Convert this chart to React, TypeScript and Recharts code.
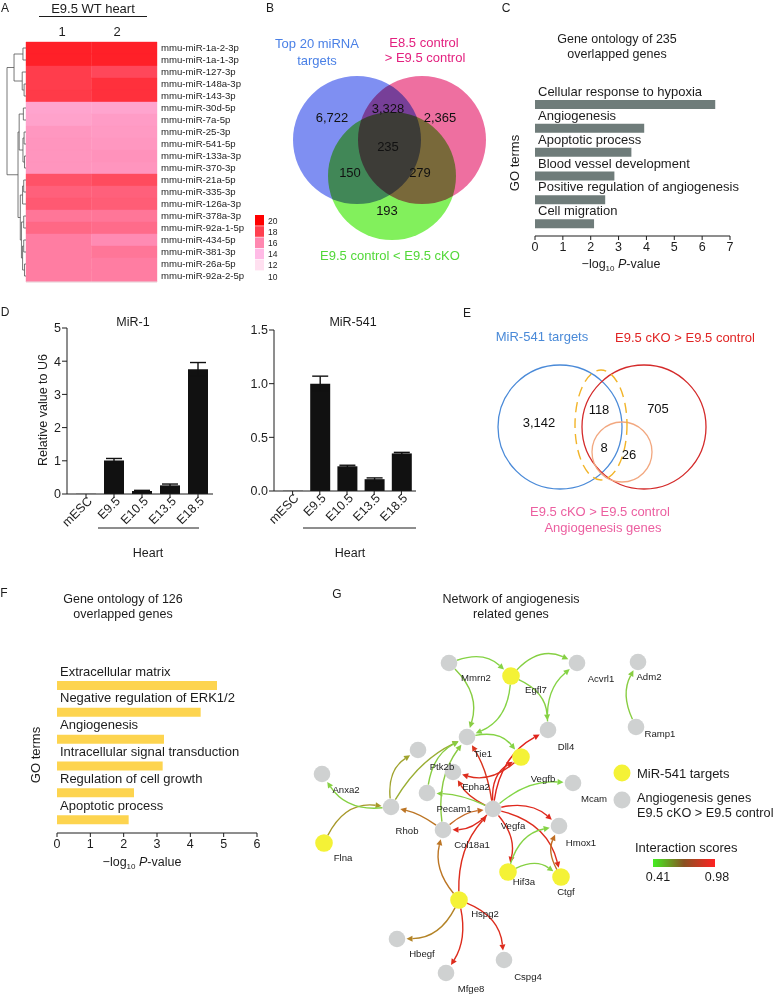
import React from 'react'
import {
  BarChart, Bar, XAxis, YAxis, LabelList, ErrorBar,
  ScatterChart, Scatter, ReferenceArea, ReferenceLine,
} from 'recharts'

const FONT = '"Liberation Sans", Arial, Helvetica, sans-serif'
const INK = '#1c1c1c'

// ---------- A: miRNA heatmap ----------
const mirNames = [
  'mmu-miR-1a-2-3p', 'mmu-miR-1a-1-3p', 'mmu-miR-127-3p', 'mmu-miR-148a-3p', 'mmu-miR-143-3p',
  'mmu-miR-30d-5p', 'mmu-miR-7a-5p', 'mmu-miR-25-3p', 'mmu-miR-541-5p', 'mmu-miR-133a-3p',
  'mmu-miR-370-3p', 'mmu-miR-21a-5p', 'mmu-miR-335-3p', 'mmu-miR-126a-3p', 'mmu-miR-378a-3p',
  'mmu-miR-92a-1-5p', 'mmu-miR-434-5p', 'mmu-miR-381-3p', 'mmu-miR-26a-5p', 'mmu-miR-92a-2-5p',
]
const heartRep1 = [19.0, 19.0, 18.1, 18.1, 18.2, 14.9, 15.0, 15.4, 15.5, 15.5, 15.5, 17.5, 17.1, 17.3, 16.5, 16.9, 16.3, 16.3, 16.3, 16.3]
const heartRep2 = [19.0, 19.0, 17.8, 18.5, 18.5, 14.9, 15.2, 15.3, 15.4, 15.6, 15.5, 17.7, 17.1, 17.2, 16.5, 16.8, 15.9, 16.5, 16.3, 16.3]
const heatLegend = [20, 18, 16, 14, 12, 10]
// dendrogram merges [left, right, height]; ids >= 20 refer to earlier merges
const mirTree: [number, number, number][] = [
  [0, 1, 0.16], [3, 4, 0.1], [2, 21, 0.2], [20, 22, 0.63],
  [5, 6, 0.14], [7, 8, 0.1], [9, 10, 0.08], [25, 26, 0.16], [24, 27, 0.36],
  [11, 12, 0.12], [29, 13, 0.18], [14, 15, 0.12], [16, 17, 0.12], [18, 19, 0.08],
  [32, 33, 0.18], [31, 34, 0.24], [30, 35, 0.3], [28, 36, 0.42], [23, 37, 1.0],
]

// ---------- B: three-way venn ----------
const vennBCounts = [6722, 3328, 2365, 235, 150, 279, 193]
const vennBFill = ['#7f8ff2', '#ee6fa0', '#82f05c']

// ---------- C: GO of 235 genes ----------
const goTerms235 = ['Cellular response to hypoxia', 'Angiogenesis', 'Apoptotic process', 'Blood vessel development', 'Positive regulation of angiogenesis', 'Cell migration']
const goP235 = [6.47, 3.92, 3.46, 2.85, 2.52, 2.12]

// ---------- D: qPCR ----------
const stages = ['mESC', 'E9.5', 'E10.5', 'E13.5', 'E18.5']
const mir1Mean = [0.005, 1.01, 0.09, 0.26, 3.76]
const mir1Err = [0, 0.06, 0.02, 0.04, 0.2]
const mir541Mean = [0.002, 1.0, 0.23, 0.11, 0.35]
const mir541Err = [0, 0.07, 0.01, 0.012, 0.01]

// ---------- E: miR-541 venn ----------
const vennECounts = [3142, 118, 705, 8, 26]

// ---------- F: GO of 126 genes ----------
const goTerms126 = ['Extracellular matrix', 'Negative regulation of ERK1/2', 'Angiogenesis', 'Intracellular signal transduction', 'Regulation of cell growth', 'Apoptotic process']
const goP126 = [4.8, 4.31, 3.21, 3.17, 2.31, 2.15]

// ---------- G: network ----------
const geneNodes = ['Mmrn2', 'Egfl7', 'Acvrl1', 'Adm2', 'Ramp1', 'Dll4', 'Tie1', 'Vegfb', 'Ptk2b', 'Epha2', 'Pecam1', 'Anxa2',
  'Rhob', 'Flna', 'Col18a1', 'Vegfa', 'Mcam', 'Hmox1', 'Hif3a', 'Ctgf', 'Hspg2', 'Hbegf', 'Mfge8', 'Cspg4']
const mir541Targets = ['Egfl7', 'Vegfb', 'Flna', 'Hif3a', 'Ctgf', 'Hspg2']
const interactions: [string, string, number][] = [
  ['Mmrn2', 'Egfl7', 0.45], ['Egfl7', 'Acvrl1', 0.46], ['Mmrn2', 'Tie1', 0.47], ['Egfl7', 'Tie1', 0.45],
  ['Egfl7', 'Dll4', 0.46], ['Dll4', 'Acvrl1', 0.45], ['Ramp1', 'Adm2', 0.47], ['Tie1', 'Vegfb', 0.45],
  ['Vegfa', 'Dll4', 0.97], ['Vegfa', 'Vegfb', 0.96], ['Vegfb', 'Epha2', 0.95], ['Vegfa', 'Tie1', 0.93],
  ['Vegfa', 'Epha2', 0.94], ['Vegfa', 'Mcam', 0.44], ['Vegfa', 'Hmox1', 0.96], ['Vegfa', 'Hif3a', 0.95],
  ['Vegfa', 'Ctgf', 0.95], ['Hif3a', 'Hmox1', 0.45], ['Hif3a', 'Ctgf', 0.46], ['Ctgf', 'Hmox1', 0.78],
  ['Vegfa', 'Pecam1', 0.46], ['Rhob', 'Ptk2b', 0.62], ['Rhob', 'Tie1', 0.58], ['Pecam1', 'Tie1', 0.47],
  ['Col18a1', 'Tie1', 0.48], ['Vegfa', 'Col18a1', 0.96], ['Col18a1', 'Rhob', 0.76], ['Col18a1', 'Vegfa', 0.8],
  ['Hspg2', 'Col18a1', 0.76], ['Hspg2', 'Vegfa', 0.95], ['Hspg2', 'Hbegf', 0.72], ['Hspg2', 'Mfge8', 0.95],
  ['Hspg2', 'Cspg4', 0.95], ['Flna', 'Rhob', 0.66], ['Rhob', 'Anxa2', 0.46],
]

// layout (px inside each panel), kept apart from the values
const vennBCircleAt = [[97, 140], [162, 140], [132, 176]]
const vennBCountAt = [[72, 117], [128, 108], [180, 117], [128, 146], [90, 172], [160, 172], [127, 210]]
const vennECircleAt = [[170, 137, 62, '#4a8ad8'], [254, 137, 62, '#d42a2a'], [232, 162, 30, '#f2a880']] as const
const vennECountAt = [[149, 132], [209, 119], [268, 118], [214, 157], [239, 164]]
const nodeAt: Record<string, [number, number]> = {
  Mmrn2: [149, 73], Egfl7: [211, 86], Acvrl1: [277, 73], Adm2: [338, 72], Ramp1: [336, 137],
  Dll4: [248, 140], Tie1: [167, 147], Vegfb: [221, 167], Ptk2b: [118, 160], Epha2: [153, 182],
  Pecam1: [127, 203], Anxa2: [22, 184], Rhob: [91, 217], Flna: [24, 253], Col18a1: [143, 240],
  Vegfa: [193, 219], Mcam: [273, 193], Hmox1: [259, 236], Hif3a: [208, 282], Ctgf: [261, 287],
  Hspg2: [159, 310], Hbegf: [97, 349], Mfge8: [146, 383], Cspg4: [204, 370],
}
const labelAt: Record<string, [number, number]> = {
  Mmrn2: [176, 87], Egfl7: [236, 99], Acvrl1: [301, 88], Adm2: [349, 86], Ramp1: [360, 143],
  Dll4: [266, 156], Tie1: [183, 163], Vegfb: [243, 188], Ptk2b: [142, 176], Epha2: [176, 196],
  Pecam1: [154, 218], Anxa2: [46, 199], Rhob: [107, 240], Flna: [43, 267], Col18a1: [172, 254],
  Vegfa: [213, 235], Mcam: [294, 208], Hmox1: [281, 252], Hif3a: [224, 291], Ctgf: [266, 301],
  Hspg2: [185, 323], Hbegf: [122, 363], Mfge8: [171, 398], Cspg4: [228, 386],
}
const edgeBend = [0.3, 0.35, 0.3, 0.3, 0.3, 0.25, 0.25, 0.3, 0.25, 0.3, 0.27, -0.1, 0.15, 0.2, 0.25, 0.25,
  0.3, 0.3, 0.3, 0.25, -0.1, 0.3, 0.15, 0.25, 0.2, 0.2, -0.1, 0.15, 0.25, 0.2, 0.3, 0.2, 0.3, 0.35, 0.3]

const heatStops: [number, number[]][] = [
  [10, [255, 255, 255]], [12, [255, 224, 240]], [14, [255, 187, 230]],
  [16, [255, 136, 176]], [18, [255, 64, 80]], [20, [255, 0, 0]],
]
const scoreStops: [number, number[]][] = [
  [0, [126, 222, 74]], [0.45, [168, 150, 40]], [0.7, [198, 100, 34]], [1, [226, 32, 28]],
]

function lerpStops(stops: [number, number[]][], v: number) {
  if (v <= stops[0][0]) return `rgb(${stops[0][1].join(',')})`
  for (let i = 1; i < stops.length; i++) {
    const [v1, c1] = stops[i]
    const [v0, c0] = stops[i - 1]
    if (v <= v1) {
      const t = (v - v0) / (v1 - v0)
      return `rgb(${c0.map((c, k) => Math.round(c + (c1[k] - c) * t)).join(',')})`
    }
  }
  return `rgb(${stops[stops.length - 1][1].join(',')})`
}
const heatColor = (v: number) => lerpStops(heatStops, v)
const scoreColor = (s: number) => lerpStops(scoreStops, (s - 0.41) / 0.57)

const txt = (size = 12.5, extra: any = {}) => ({ fontSize: size, fontFamily: FONT, fill: INK, ...extra })

// chart whose axes map one unit to one pixel
function PixelCanvas({ w, h, children }: { w: number; h: number; children: React.ReactNode }) {
  return (
    <ScatterChart width={w} height={h} margin={{ top: 0, right: 0, bottom: 0, left: 0 }}>
      <XAxis type="number" dataKey="x" domain={[0, w]} allowDataOverflow hide />
      <YAxis type="number" dataKey="y" domain={[0, h]} allowDataOverflow reversed hide />
      {children}
    </ScatterChart>
  )
}

function HeatmapA() {
  const K = 0.29
  const pos = mirNames.map((_, i) => i + 0.5)
  const hgt = mirNames.map(() => 0)
  const segs: number[][] = []
  mirTree.forEach(([a, b, h]) => {
    segs.push([-hgt[a] * K, pos[a], -h * K, pos[a]])
    segs.push([-hgt[b] * K, pos[b], -h * K, pos[b]])
    segs.push([-h * K, pos[a], -h * K, pos[b]])
    pos.push((pos[a] + pos[b]) / 2)
    hgt.push(h)
  })
  const cells = mirNames.flatMap((_, r) => [
    { x: 0.5, y: r + 0.5, c: 0, r, v: heartRep1[r] },
    { x: 1.5, y: r + 0.5, c: 1, r, v: heartRep2[r] },
  ])
  return (
    <ScatterChart width={262} height={300} margin={{ top: 42, right: 8, bottom: 18, left: 4 }}>
      <XAxis type="number" dataKey="x" domain={[-0.336, 2]} allowDataOverflow hide />
      <YAxis type="number" dataKey="y" domain={[0, 20]} allowDataOverflow reversed orientation="right" width={97}
        ticks={mirNames.map((_, i) => i + 0.5)} interval={0} tickFormatter={(v: number) => mirNames[Math.floor(v)]}
        axisLine={false} tickLine={false} tickSize={2} tickMargin={2} tick={txt(9.6)} />
      {cells.map((d) => (
        <ReferenceArea key={`${d.r}-${d.c}`} x1={d.c} x2={d.c + 1} y1={d.r} y2={d.r + 1}
          fill={heatColor(d.v)} fillOpacity={1} stroke={heatColor(d.v)} strokeWidth={0.4} />
      ))}
      {segs.map((s, i) => (
        <ReferenceLine key={i} segment={[{ x: s[0], y: s[1] }, { x: s[2], y: s[3] }]} stroke="#555" strokeWidth={0.8} />
      ))}
      <ReferenceLine segment={[{ x: 0, y: 20 }, { x: 2, y: 20 }]} stroke="#e4e4e4" strokeWidth={1} />
      <Scatter data={cells} isAnimationActive={false} shape={() => <g />} />
    </ScatterChart>
  )
}

function VennB() {
  const circles = vennBFill.map((fill, i) => ({ x: vennBCircleAt[i][0], y: vennBCircleAt[i][1], fill }))
  const counts = vennBCounts.map((n, i) => ({ x: vennBCountAt[i][0], y: vennBCountAt[i][1], n }))
  return (
    <PixelCanvas w={260} h={290}>
      <Scatter data={circles} isAnimationActive={false}
        shape={(p: any) => <circle cx={p.cx} cy={p.cy} r={64} fill={p.payload.fill} style={{ mixBlendMode: 'multiply' }} />} />
      <Scatter data={counts} isAnimationActive={false}
        shape={(p: any) => (
          <text x={p.cx} y={p.cy} textAnchor="middle" dominantBaseline="central" {...txt(13, { fill: '#111' })}>
            {p.payload.n.toLocaleString('en-US')}
          </text>
        )} />
    </PixelCanvas>
  )
}

const bandTick = (band: number) => (p: any) => (
  <line x1={p.x} x2={p.x + 4} y1={p.y - band / 2} y2={p.y - band / 2} stroke={INK} strokeWidth={1} />
)
const aboveLabel = (lift: number) => (p: any) => (
  <text x={p.x + 3} y={p.y - lift} dominantBaseline="central" {...txt(13)}>{p.value}</text>
)

function GoBars({ terms, values, color, width, height, margin, max, lift }: any) {
  const data = terms.map((term: string, i: number) => ({ term, p: values[i] }))
  const plotH = height - margin.top - margin.bottom - 20
  const ticks = Array.from({ length: max + 1 }, (_, i) => i)
  return (
    <BarChart layout="vertical" width={width} height={height} data={data} margin={margin} barCategoryGap={0}>
      <XAxis type="number" domain={[0, max]} ticks={ticks} interval={0} height={20} tickSize={4} tickMargin={2}
        axisLine={{ stroke: INK }} tickLine={{ stroke: INK }} tick={txt(12.5)} />
      <YAxis type="category" dataKey="term" width={0} interval={0} tickSize={4} tickMargin={0} tickLine={false}
        axisLine={{ stroke: INK }} tick={bandTick(plotH / terms.length)} />
      <Bar dataKey="p" fill={color} barSize={9} isAnimationActive={false}>
        <LabelList dataKey="term" content={aboveLabel(lift)} />
      </Bar>
    </BarChart>
  )
}

const RotTick = (p: any) => (
  <text x={p.x + 4} y={p.y - 1} transform={`rotate(-45 ${p.x + 4} ${p.y - 1})`} textAnchor="end"
    dominantBaseline="central" {...txt(12.5)}>{p.payload.value}</text>
)

function QpcrBars({ mean, err, width, margin, yTicks, yWidth, fmt }: any) {
  const data = stages.map((stage, i) => ({ stage, mean: mean[i], err: err[i] }))
  return (
    <BarChart width={width} height={260} data={data} margin={margin} barCategoryGap={0}>
      <XAxis dataKey="stage" type="category" interval={0} height={50} padding={{ left: 5, right: 1 }}
        tickSize={4} tickMargin={2} axisLine={{ stroke: INK }} tickLine={{ stroke: INK }} tick={<RotTick />} />
      <YAxis type="number" domain={[yTicks[0], yTicks[yTicks.length - 1]]} ticks={yTicks} interval={0} width={yWidth}
        tickSize={5} tickMargin={1} tickFormatter={fmt} axisLine={{ stroke: INK }} tickLine={{ stroke: INK }} tick={txt(12.5)} />
      <Bar dataKey="mean" fill="#111" barSize={20} isAnimationActive={false}>
        <ErrorBar dataKey="err" width={8} stroke="#111" strokeWidth={1.4} />
      </Bar>
    </BarChart>
  )
}

function VennE() {
  const circles = vennECircleAt.map((c) => ({ x: c[0], y: c[1], r: c[2], color: c[3] }))
  const counts = vennECounts.map((n, i) => ({ x: vennECountAt[i][0], y: vennECountAt[i][1], n }))
  return (
    <PixelCanvas w={385} h={300}>
      <Scatter data={circles} isAnimationActive={false}
        shape={(p: any) => <circle cx={p.cx} cy={p.cy} r={p.payload.r} fill="none" stroke={p.payload.color} strokeWidth={1.3} />} />
      <Scatter data={[{ x: 211, y: 135 }]} isAnimationActive={false}
        shape={(p: any) => <ellipse cx={p.cx} cy={p.cy} rx={26} ry={55} fill="none" stroke="#f2b428" strokeWidth={1.4} strokeDasharray="10 6" />} />
      <Scatter data={counts} isAnimationActive={false}
        shape={(p: any) => (
          <text x={p.cx} y={p.cy} textAnchor="middle" dominantBaseline="central" {...txt(13, { fill: '#111' })}>
            {p.payload.n.toLocaleString('en-US')}
          </text>
        )} />
    </PixelCanvas>
  )
}

function edgeShape(p: any) {
  const e = p.payload
  const sx = p.cx, sy = p.cy
  const tx = sx + (e.tx - e.x), ty = sy + (e.ty - e.y)
  const dx = tx - sx, dy = ty - sy
  const mx = (sx + tx) / 2 + e.bend * dy, my = (sy + ty) / 2 - e.bend * dx
  const u = (ax: number, ay: number) => { const l = Math.hypot(ax, ay) || 1; return [ax / l, ay / l] }
  const [ux, uy] = u(mx - sx, my - sy)
  const [vx, vy] = u(mx - tx, my - ty)
  const x0 = sx + ux * 8.5, y0 = sy + uy * 8.5
  const x1 = tx + vx * 9.5, y1 = ty + vy * 9.5
  const [ax, ay] = u(x1 - mx, y1 - my)
  const bx = x1 - ax * 6, by = y1 - ay * 6
  const col = scoreColor(e.score)
  return (
    <g>
      <path d={`M${x0},${y0} Q${mx},${my} ${bx},${by}`} fill="none" stroke={col} strokeWidth={1.4} />
      <polygon points={`${x1},${y1} ${bx + ay * 3},${by - ax * 3} ${bx - ay * 3},${by + ax * 3}`} fill={col} />
    </g>
  )
}

function NetworkG() {
  const edges = interactions.map(([s, t, score], i) => ({
    x: nodeAt[s][0], y: nodeAt[s][1], tx: nodeAt[t][0], ty: nodeAt[t][1], score, bend: edgeBend[i],
  }))
  const nodes = geneNodes.map((g) => ({ x: nodeAt[g][0], y: nodeAt[g][1], target: mir541Targets.includes(g) }))
  const labels = geneNodes.map((g) => ({ x: labelAt[g][0], y: labelAt[g][1], g }))
  return (
    <PixelCanvas w={475} h={404}>
      <Scatter data={edges} isAnimationActive={false} shape={edgeShape} />
      <Scatter data={nodes} isAnimationActive={false}
        shape={(p: any) => <circle cx={p.cx} cy={p.cy} r={p.payload.target ? 8.8 : 8.3} fill={p.payload.target ? '#f4f236' : '#cfd1d1'} />} />
      <Scatter data={labels} isAnimationActive={false}
        shape={(p: any) => (
          <text x={p.cx} y={p.cy} textAnchor="middle" dominantBaseline="central" {...txt(9.6, { fill: '#222' })}>{p.payload.g}</text>
        )} />
    </PixelCanvas>
  )
}

function T({ x, y, children, size = 12.5, color = INK, anchor = 'middle', rotate }: any) {
  return (
    <text x={x} y={y} textAnchor={anchor} dominantBaseline="central" fontSize={size} fontFamily={FONT} fill={color}
      transform={rotate ? `rotate(${rotate} ${x} ${y})` : undefined}>{children}</text>
  )
}

function LogLabel({ x, y }: any) {
  return (
    <text x={x} y={y} textAnchor="middle" dominantBaseline="central" fontSize={12.5} fontFamily={FONT} fill={INK}>
      −log<tspan fontSize={8} dy={4}>10</tspan><tspan dy={-4}> </tspan><tspan fontStyle="italic">P</tspan>-value
    </text>
  )
}

function Overlay() {
  return (
    <svg width={775} height={994} style={{ position: 'absolute', left: 0, top: 0, pointerEvents: 'none' }}>
      {/* panel letters */}
      <T x={5} y={8} size={12}>A</T>
      <T x={270} y={8} size={12}>B</T>
      <T x={506} y={8} size={12}>C</T>
      <T x={5} y={312} size={12}>D</T>
      <T x={467} y={313} size={12}>E</T>
      <T x={4} y={593} size={12}>F</T>
      <T x={337} y={594} size={12}>G</T>

      {/* A */}
      <T x={93} y={8} size={13}>E9.5 WT heart</T>
      <line x1={39} x2={147} y1={16.5} y2={16.5} stroke={INK} strokeWidth={1} />
      <T x={62} y={31} size={13}>1</T>
      <T x={117} y={31} size={13}>2</T>
      {heatLegend.map((v, i) => (
        <g key={v}>
          <rect x={255} y={215 + i * 11.2} width={9} height={10.6} fill={heatColor(v)} />
          <T x={268} y={220.5 + i * 11.2} size={8.5} anchor="start">{v}</T>
        </g>
      ))}

      {/* B */}
      <T x={317} y={43} size={13} color="#4a80e6">Top 20 miRNA</T>
      <T x={317} y={60} size={13} color="#4a80e6">targets</T>
      <T x={424} y={42} size={13} color="#e3207f">E8.5 control</T>
      <T x={425} y={57} size={13} color="#e3207f">&gt; E9.5 control</T>
      <T x={390} y={255} size={13} color="#52d838">E9.5 control &lt; E9.5 cKO</T>

      {/* C */}
      <T x={617} y={39}>Gene ontology of 235</T>
      <T x={617} y={54}>overlapped genes</T>
      <T x={514} y={163} size={13} rotate={-90}>GO terms</T>
      <LogLabel x={621} y={264} />

      {/* D */}
      <T x={133} y={322}>MiR-1</T>
      <T x={353} y={322}>MiR-541</T>
      <T x={43} y={410} rotate={-90}>Relative value to U6</T>
      <line x1={98} x2={199} y1={528} y2={528} stroke={INK} strokeWidth={1} />
      <T x={148} y={553}>Heart</T>
      <line x1={303} x2={416} y1={528} y2={528} stroke={INK} strokeWidth={1} />
      <T x={350} y={553}>Heart</T>

      {/* E */}
      <T x={542} y={336} size={13} color="#4a8ad8">MiR-541 targets</T>
      <T x={685} y={337} size={13} color="#e02424">E9.5 cKO &gt; E9.5 control</T>
      <T x={600} y={511} size={13} color="#ec5fa0">E9.5 cKO &gt; E9.5 control</T>
      <T x={603} y={527} size={13} color="#ec5fa0">Angiogenesis genes</T>

      {/* F */}
      <T x={123} y={599}>Gene ontology of 126</T>
      <T x={123} y={614}>overlapped genes</T>
      <T x={35} y={755} size={13} rotate={-90}>GO terms</T>
      <LogLabel x={142} y={862} />

      {/* G */}
      <T x={511} y={599}>Network of angiogenesis</T>
      <T x={511} y={614}>related genes</T>
      <circle cx={622} cy={773} r={8.5} fill="#f4f236" />
      <T x={637} y={773} size={13} anchor="start">MiR-541 targets</T>
      <circle cx={622} cy={800} r={8.5} fill="#cfd1d1" />
      <T x={637} y={798} size={12.7} anchor="start">Angiogenesis genes</T>
      <T x={637} y={813} size={12.7} anchor="start">E9.5 cKO &gt; E9.5 control</T>
      <T x={635} y={847} size={13} anchor="start">Interaction scores</T>
      <defs>
        <linearGradient id="scoreGrad" x1="0" x2="1" y1="0" y2="0">
          <stop offset="0" stopColor="#44ee22" />
          <stop offset="0.5" stopColor="#8a5222" />
          <stop offset="1" stopColor="#ff2222" />
        </linearGradient>
      </defs>
      <rect x={653} y={859} width={62} height={8} fill="url(#scoreGrad)" />
      <T x={658} y={877}>0.41</T>
      <T x={717} y={877}>0.98</T>
    </svg>
  )
}

const at = (left: number, top: number) => ({ position: 'absolute' as const, left, top })

export default function App() {
  return (
    <div style={{ position: 'absolute', left: 0, top: 0, width: 775, height: 994, background: '#fff', fontFamily: FONT, overflow: 'hidden' }}>
      <div style={at(0, 0)}><HeatmapA /></div>
      <div style={at(260, 0)}><VennB /></div>
      <div style={at(510, 0)}>
        <GoBars terms={goTerms235} values={goP235} color="#6f7c7a" width={265} height={290}
          margin={{ top: 93, right: 45, bottom: 34, left: 25 }} max={7} lift={8.5} />
      </div>
      <div style={at(0, 300)}>
        <QpcrBars mean={mir1Mean} err={mir1Err} width={230} margin={{ top: 28, right: 17, bottom: 16, left: 37 }}
          yTicks={[0, 1, 2, 3, 4, 5]} yWidth={30} fmt={(v: number) => String(v)} />
      </div>
      <div style={at(230, 300)}>
        <QpcrBars mean={mir541Mean} err={mir541Err} width={190} margin={{ top: 30, right: 4, bottom: 19, left: 10 }}
          yTicks={[0, 0.5, 1, 1.5]} yWidth={34} fmt={(v: number) => v.toFixed(1)} />
      </div>
      <div style={at(390, 290)}><VennE /></div>
      <div style={at(0, 590)}>
        <GoBars terms={goTerms126} values={goP126} color="#fdd44f" width={300} height={290}
          margin={{ top: 82, right: 43, bottom: 27, left: 57 }} max={6} lift={10} />
      </div>
      <div style={at(300, 590)}><NetworkG /></div>
      <Overlay />
    </div>
  )
}
